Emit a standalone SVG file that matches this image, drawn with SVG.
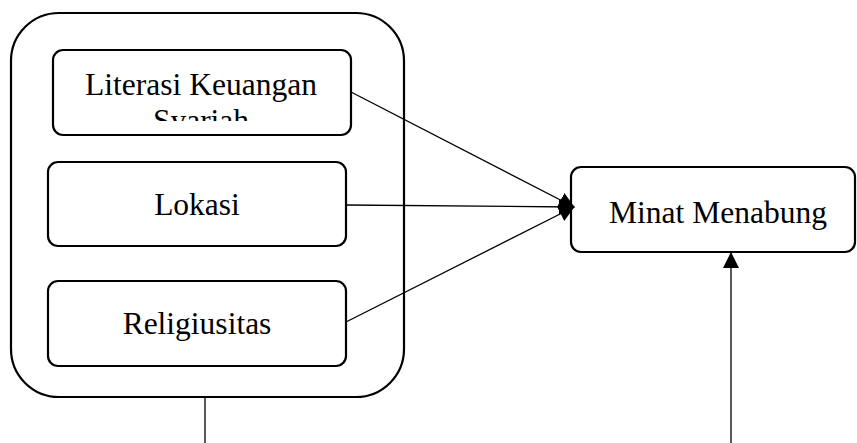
<svg xmlns="http://www.w3.org/2000/svg" width="857" height="443" viewBox="0 0 857 443">
<style>
.box{fill:#fff;stroke:#000;stroke-width:2.2}
.lbl{font-family:"Liberation Serif","Times New Roman",serif;font-size:31.5px;fill:#000;text-anchor:middle}
.con{stroke:#000;stroke-width:1.3;fill:none}
</style>
<defs>
<marker id="ah" viewBox="0 0 16 16" refX="15" refY="8" markerWidth="16" markerHeight="16" markerUnits="userSpaceOnUse" orient="auto">
<path d="M0,0 L16,8 L0,16 Z" fill="#000"/>
</marker>
<clipPath id="c1"><rect x="55" y="52" width="294" height="69"/></clipPath>
</defs>
<g id="group-outer">
<rect class="box" x="11" y="13" width="393" height="384" rx="48" ry="48"/>
</g>
<g id="node-literasi">
<rect class="box" x="53" y="50" width="298" height="85" rx="10" ry="10"/>
<g clip-path="url(#c1)">
<text class="lbl" x="201" y="95">Literasi Keuangan</text>
<text class="lbl" x="201" y="131">Syariah</text>
</g>
</g>
<g id="node-lokasi">
<rect class="box" x="48" y="162" width="298" height="84" rx="10" ry="10"/>
<text class="lbl" x="197" y="215">Lokasi</text>
</g>
<g id="node-religiusitas">
<rect class="box" x="48" y="281" width="298" height="85" rx="10" ry="10"/>
<text class="lbl" x="197" y="334">Religiusitas</text>
</g>
<g id="node-minat">
<rect class="box" x="571" y="167" width="284" height="85" rx="10" ry="10"/>
<text class="lbl" x="718" y="223">Minat Menabung</text>
</g>
<g id="connectors">
<line class="con" x1="351" y1="92" x2="574" y2="207" marker-end="url(#ah)"/>
<line class="con" x1="346" y1="205" x2="574" y2="207" marker-end="url(#ah)"/>
<line class="con" x1="346" y1="322" x2="574" y2="207" marker-end="url(#ah)"/>
<line class="con" x1="205" y1="397" x2="205" y2="443"/>
<line class="con" x1="731" y1="443" x2="731" y2="253" marker-end="url(#ah)"/>
</g>
</svg>
